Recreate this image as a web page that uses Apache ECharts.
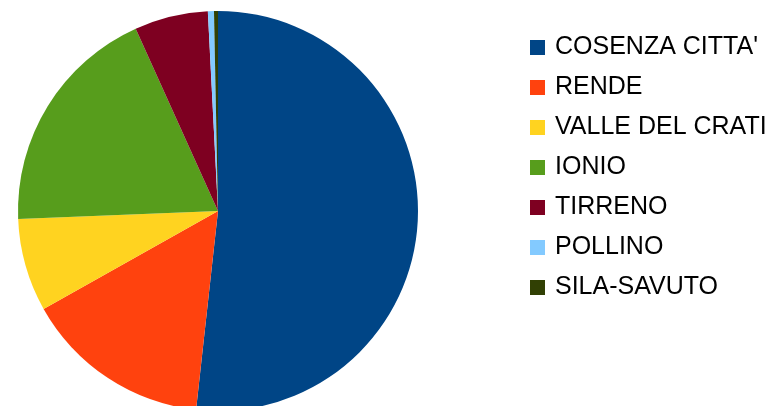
<!DOCTYPE html>
<html lang="it">
	<head>
		<meta charset="utf-8" />
		<title>Pie</title>
	</head>
	<body>
		<div id="chart-container"></div>
		<script src="https://cdn.jsdelivr.net/npm/echarts@6/dist/echarts.min.js"></script>
	</body>
	<style>
		* {
			margin: 0;
			padding: 0;
		}

		#chart-container {
			position: relative;
			width: 780px;
			height: 406px;
			overflow: hidden;
			background: #ffffff;
		}
	</style>
	<script>
		var categories = ["COSENZA CITTA'", "RENDE", "VALLE DEL CRATI", "IONIO", "TIRRENO", "POLLINO", "SILA-SAVUTO"];
		var values = [51.75, 15.11, 7.5, 18.89, 5.94, 0.49, 0.32];
		var colors = ["#004586", "#ff420e", "#ffd320", "#579d1c", "#7e0021", "#83caff", "#314004"];

		var dom = document.getElementById("chart-container");
		var myChart = echarts.init(dom, null, { renderer: "canvas" });

		var pieData = [];
		for (let i = 0; i < categories.length; i++) {
			pieData.push({ name: categories[i], value: values[i] });
		}

		var option = {
			animation: false,
			color: colors,
			legend: {
				orient: "vertical",
				left: 530,
				top: 35,
				padding: 0,
				itemWidth: 15,
				itemHeight: 15,
				itemGap: 15,
				icon: "rect",
				data: categories,
				textStyle: {
					fontFamily: "Liberation Sans",
					fontSize: 25,
					color: "#000000",
					padding: [0, 0, 0, 5],
				},
			},
			series: [{
				type: "pie",
				center: [218, 211],
				radius: 200,
				startAngle: 90,
				clockwise: true,
				label: { show: false },
				labelLine: { show: false },
				emphasis: { disabled: true },
				data: pieData,
			}],
		};

		myChart.setOption(option);
	</script>
</html>
